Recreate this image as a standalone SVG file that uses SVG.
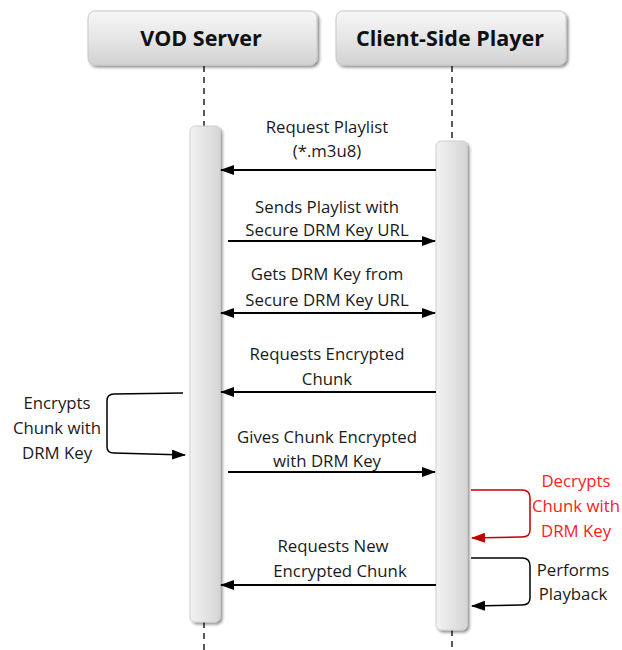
<svg xmlns="http://www.w3.org/2000/svg" width="622" height="650" viewBox="0 0 622 650">
  <defs>
    <linearGradient id="hdrFill" x1="0" y1="0" x2="0" y2="1">
      <stop offset="0" stop-color="#f7f7f7"/>
      <stop offset="0.5" stop-color="#e6e6e6"/>
      <stop offset="1" stop-color="#d2d2d2"/>
    </linearGradient>
    <linearGradient id="barFill" x1="0" y1="0" x2="1" y2="0">
      <stop offset="0" stop-color="#f2f2f2"/>
      <stop offset="0.5" stop-color="#e4e4e4"/>
      <stop offset="1" stop-color="#d6d6d6"/>
    </linearGradient>
    <filter id="shadow" x="-10%" y="-10%" width="130%" height="130%">
      <feGaussianBlur in="SourceAlpha" stdDeviation="1.5"/>
      <feOffset dx="2" dy="2" result="b"/>
      <feComponentTransfer><feFuncA type="linear" slope="0.45"/></feComponentTransfer>
      <feMerge><feMergeNode/><feMergeNode in="SourceGraphic"/></feMerge>
    </filter>
    <marker id="arr" viewBox="0 0 14 10" refX="13" refY="5" markerWidth="14" markerHeight="10" markerUnits="userSpaceOnUse" orient="auto-start-reverse">
      <path d="M0,0 L14,5 L0,10 Z" fill="#000"/>
    </marker>
    <marker id="arrRed" viewBox="0 0 14 10" refX="13" refY="5" markerWidth="14" markerHeight="10" markerUnits="userSpaceOnUse" orient="auto">
      <path d="M0,0 L14,5 L0,10 Z" fill="#c00000"/>
    </marker>
  </defs>
  <style>
    .hdr { fill: url(#hdrFill); stroke: #c8c8c8; stroke-width: 1; }
    .hdrText { font-family: "Open Sans", "Liberation Sans", sans-serif; font-weight: bold; font-size: 21.5px; fill: #111; text-anchor: middle; }
    .life { stroke: #222; stroke-width: 1.5; stroke-dasharray: 6 5; fill: none; }
    .bar { fill: url(#barFill); stroke: #d0d0d0; stroke-width: 1; }
    .msg { stroke: #000; stroke-width: 2; fill: none; }
    .loop { stroke: #000; stroke-width: 1.5; fill: none; }
    .loopRed { stroke: #c00000; stroke-width: 1.5; fill: none; }
    .lbl { font-family: "Open Sans", "Liberation Sans", sans-serif; font-size: 16.8px; fill: #1a1a1a; text-anchor: middle; }
    .red { fill: #ff2020; }
  </style>

  <g id="vod-server">
    <line class="life" x1="204" y1="66" x2="204" y2="127"/>
    <line class="life" x1="204" y1="622" x2="204" y2="650"/>
    <rect class="hdr" x="88" y="11" width="229" height="54" rx="7" filter="url(#shadow)"/>
    <text class="hdrText" x="201" y="46">VOD Server</text>
    <rect class="bar" x="190" y="126" width="30" height="496" rx="5" filter="url(#shadow)"/>
  </g>

  <g id="client-player">
    <line class="life" x1="452" y1="66" x2="452" y2="142"/>
    <line class="life" x1="452" y1="630" x2="452" y2="650"/>
    <rect class="hdr" x="336" y="11" width="230" height="54" rx="7" filter="url(#shadow)"/>
    <text class="hdrText" x="450" y="46">Client-Side Player</text>
    <rect class="bar" x="436" y="141" width="31" height="489" rx="5" filter="url(#shadow)"/>
  </g>

  <g id="connectors">
    <line class="msg" x1="436" y1="170" x2="221" y2="170" marker-end="url(#arr)"/>
    <line class="msg" x1="228" y1="241" x2="435" y2="241" marker-end="url(#arr)"/>
    <line class="msg" x1="221" y1="313" x2="435" y2="313" marker-start="url(#arr)" marker-end="url(#arr)"/>
    <line class="msg" x1="436" y1="392" x2="221" y2="392" marker-end="url(#arr)"/>
    <line class="msg" x1="228" y1="472" x2="435" y2="472" marker-end="url(#arr)"/>
    <line class="msg" x1="436" y1="585" x2="221" y2="585" marker-end="url(#arr)"/>
    <path class="loop" d="M183,393 L114,394 Q107,394 107,401 L107,447 Q107,453 114,453 L185,455" marker-end="url(#arr)"/>
    <path class="loopRed" d="M471,490 L522,490 Q530,490 530,498 L530,530 Q530,537 522,537 L472,538" marker-end="url(#arrRed)"/>
    <path class="loop" d="M471,558 L522,558 Q530,558 530,566 L530,598 Q530,605 522,605 L472,606" marker-end="url(#arr)"/>
  </g>

  <g id="labels">
    <text class="lbl" x="327" y="133">Request Playlist</text>
    <text class="lbl" x="327" y="157">(*.m3u8)</text>
    <text class="lbl" x="327" y="213">Sends Playlist with</text>
    <text class="lbl" x="327" y="236">Secure DRM Key URL</text>
    <text class="lbl" x="327" y="280">Gets DRM Key from</text>
    <text class="lbl" x="327" y="306">Secure DRM Key URL</text>
    <text class="lbl" x="327" y="360">Requests Encrypted</text>
    <text class="lbl" x="327" y="385">Chunk</text>
    <text class="lbl" x="327" y="443">Gives Chunk Encrypted</text>
    <text class="lbl" x="327" y="467">with DRM Key</text>
    <text class="lbl" x="333" y="552">Requests New</text>
    <text class="lbl" x="340" y="577">Encrypted Chunk</text>
    <text class="lbl" x="57" y="409">Encrypts</text>
    <text class="lbl" x="57" y="434">Chunk with</text>
    <text class="lbl" x="57" y="459">DRM Key</text>
    <text class="lbl red" x="576" y="487">Decrypts</text>
    <text class="lbl red" x="576" y="512">Chunk with</text>
    <text class="lbl red" x="576" y="537">DRM Key</text>
    <text class="lbl" x="573" y="576">Performs</text>
    <text class="lbl" x="573" y="600">Playback</text>
  </g>
</svg>
